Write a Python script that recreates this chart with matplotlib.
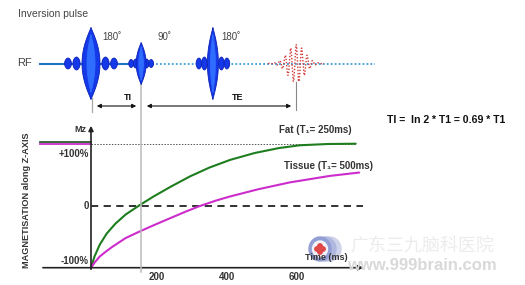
import numpy as np
import matplotlib.pyplot as plt
from matplotlib.patches import Circle, Ellipse

plt.rcParams['font.family'] = ['Liberation Sans', 'DejaVu Sans']

# curves (t in ms, Mz as fraction of M0)
fat_t = [0, 10, 25, 45, 70, 100, 140, 180, 230, 285, 340, 400, 470, 540, 600, 680, 760]
fat_mz = [-1.0, -0.82, -0.63, -0.45, -0.29, -0.14, 0.01, 0.15, 0.31, 0.475, 0.615,
          0.74, 0.85, 0.93, 0.975, 0.995, 1.0]
tissue_t = [0, 10, 25, 45, 62, 100, 140, 180, 230, 270, 310, 360, 400, 480, 570, 685, 770]
tissue_mz = [-1.0, -0.92, -0.82, -0.73, -0.66, -0.52, -0.415, -0.315, -0.195, -0.10,
             -0.01, 0.085, 0.15, 0.265, 0.375, 0.48, 0.535]
# equilibrium before the inversion pulse
pre_t = [-146, 0]
pre_fat = [1.03, 1.03]
pre_tissue = [1.0, 1.0]

x_ticks = [200, 400, 600]
y_labels = ['+100%', '0', '-100%']

# sequence timing (ms)
t_inv = 0
t_90 = 144
t_180 = 350
t_echo = 589

# pixel <-> data mapping
PX_MS = 0.3483
X0 = 91
Y0 = 205.7
PX_M = 62.0

fig = plt.figure(figsize=(5.25, 2.85), dpi=100)
ax = fig.add_axes([0, 0, 1, 1])
ax.set_xlim(-X0 / PX_MS, (525 - X0) / PX_MS)
ax.set_ylim((Y0 - 285) / PX_M, Y0 / PX_M)
ax.axis('off')

# overlay for the RF schematic and labels, x in ms, y in pixels
ov = fig.add_axes([0, 0, 1, 1])
ov.set_xlim(ax.get_xlim())
ov.set_ylim(285, 0)
ov.axis('off')
ov.patch.set_alpha(0)

def ms(px):
    return (px - X0) / PX_MS

dark = '#333333'

# ---- chart ----
ax.plot(fat_t, fat_mz, color='#1e7d1e', lw=1.5, solid_capstyle='round', solid_joinstyle='round', zorder=3)
ax.plot(tissue_t, tissue_mz, color='#cc2ccc', lw=1.5, solid_capstyle='round', solid_joinstyle='round', zorder=3)
ax.plot(pre_t, pre_fat, color='#2a5a2a', lw=1.3)
ax.plot(pre_t, pre_tissue, color='#cc2ccc', lw=1.3)
ax.plot([0, 760], [1, 1], color='#555555', lw=0.7, ls=(0, (1.5, 1.5)))
ax.plot([0, ms(363)], [0, 0], color='#222222', lw=1.3, ls=(0, (4, 3)))

# axes with arrows
ax.annotate('', xy=(ms(366), -1), xytext=(-146, -1),
            arrowprops=dict(arrowstyle='-|>', color='#222222', lw=1.2, mutation_scale=7))
ax.annotate('', xy=(0, (Y0 - 123) / PX_M), xytext=(0, (Y0 - 272) / PX_M),
            arrowprops=dict(arrowstyle='-|>', color='#222222', lw=1.2, mutation_scale=7))

for t in x_ticks:
    ax.text(t - 10, (Y0 - 277) / PX_M, str(t), ha='center', va='center',
            fontsize=7, fontweight='bold', color=dark)
for lab, py in zip(y_labels, [154, 206, 261]):
    ax.text(ms(89), (Y0 - py) / PX_M, lab, ha='right', va='center',
            fontsize=7, fontweight='bold', color=dark)
ax.text(ms(80), (Y0 - 130) / PX_M, 'Mz', ha='center', va='center',
        fontsize=6.5, fontweight='bold', color=dark)
ax.text(ms(27), (Y0 - 200) / PX_M, 'MAGNETISATION along Z-AXIS', rotation=90,
        ha='center', va='center', fontsize=6.6, fontweight='bold', color=dark)
ax.text(ms(315), (Y0 - 130) / PX_M, 'Fat (T\u2081= 250ms)', ha='center', va='center',
        fontsize=7, fontweight='bold', color=dark)
ax.text(ms(328), (Y0 - 166) / PX_M, 'Tissue (T\u2081= 500ms)', ha='center', va='center',
        fontsize=7, fontweight='bold', color=dark)
ax.text(ms(446), (Y0 - 120) / PX_M, 'TI =  ln 2 * T1 = 0.69 * T1', ha='center', va='center',
        fontsize=7.6, fontweight='bold', color='#111111')

# watermark
ov.text(ms(422), 246, '广东三九脑科医院', ha='center', va='center', fontsize=13,
        color='#ececec', family=['Noto Sans CJK SC', 'DejaVu Sans'], zorder=1)
ov.text(ms(422), 266, 'www.999brain.com', ha='center', va='center', fontsize=12,
        fontweight='bold', color='#d9d9d9', zorder=1)
for dx, c in [(10, '#d0d4ea'), (5, '#b0b8e0'), (0, '#929ed4')]:
    ov.add_patch(Ellipse((ms(320 + dx), 249), 22 / PX_MS, 24, color=c, zorder=4))
ov.add_patch(Ellipse((ms(320), 249), 15 / PX_MS, 16, color='#f2f2f8', zorder=4))
for ddx, ddy in [(0, -3), (0, 3), (-3, 0), (3, 0)]:
    ov.add_patch(Ellipse((ms(320 + ddx), 249 + ddy), 4.4 / PX_MS, 4.4, color='#e04848', zorder=5))
ov.text(ms(326), 258, 'Time (ms)', ha='center', va='center', fontsize=6.5,
        fontweight='bold', color=dark, zorder=6)

# ---- RF schematic ----
YL = 63.5

def lobe(tc, half_w_px, half_h, color='#1538e8', edge='#0b22b8', p=1.1):
    v = np.linspace(-half_h, half_h, 80)
    hw = half_w_px * (1 - (v / half_h) ** 2) ** p / PX_MS
    xs = np.concatenate([tc + hw, (tc - hw)[::-1]])
    ys = np.concatenate([YL + v, (YL + v)[::-1]])
    ov.fill(xs, ys, color=color, ec=edge, lw=0.6, zorder=3)

def pulse(tc, w, h, side):
    for off, sw, sh in side:
        lobe(tc + off / PX_MS, sw, sh, p=0.6)
        lobe(tc - off / PX_MS, sw, sh, p=0.6)
    lobe(tc, w, h)
    lobe(tc, w * 0.45, h * 0.8, color='#2f6dff', edge='#2f6dff')

ov.plot([ms(40), ms(150)], [YL, YL], color='#1f74c6', lw=1.5, zorder=2)
ov.plot([ms(152), ms(375)], [YL, YL], color='#3a9ad8', lw=1.3, ls=(0, (1, 1.2)), zorder=2)

pulse(t_inv, 9, 36, [(14.5, 3.6, 6.5), (23, 3.4, 5.5)])
pulse(t_90, 5, 21, [(5.5, 2.4, 4.5), (10, 2.4, 4)])
pulse(t_180, 5.5, 36, [(8.5, 2.8, 6.5), (14, 2.8, 5.5)])

# echo
xe = np.linspace(-28, 28, 400)
ye = YL - 19 * np.exp(-(xe / 12) ** 2) * np.cos(2 * np.pi * xe / 5.5)
ov.plot(t_echo + xe / PX_MS, ye, color='#d23a3a', lw=1.0, ls=(0, (1, 1.3)), zorder=4)

# pulse labels
for px, lab in [(112, '180\u02da'), (165, '90\u02da'), (231, '180\u02da')]:
    ov.text(ms(px), 37, lab, ha='center', va='center', fontsize=7, color='#444444')
ov.text(ms(18), 14, 'Inversion pulse', ha='left', va='center', fontsize=7.5, color='#444444')
ov.text(ms(17), 63, 'RF', ha='left', va='center', fontsize=8, color='#444444')

# timing markers
ov.plot([t_inv + 1 / PX_MS, t_inv + 1 / PX_MS], [98, 112], color='#aaaaaa', lw=0.9)
ov.plot([t_90, t_90], [82, 272], color='#bbbbbb', lw=1.1, zorder=1)
ov.plot([t_echo, t_echo], [82, 110], color='#888888', lw=0.8)
ov.annotate('', xy=(ms(94), 106), xytext=(ms(139), 106),
            arrowprops=dict(arrowstyle='<|-|>', color='#111111', lw=0.8, mutation_scale=6))
ov.annotate('', xy=(ms(144), 106), xytext=(ms(294), 106),
            arrowprops=dict(arrowstyle='<|-|>', color='#111111', lw=0.8, mutation_scale=6))
ov.text(ms(128), 98, 'TI', ha='center', va='center', fontsize=6.5, fontweight='bold', color='#111111')
ov.text(ms(238), 98, 'TE', ha='center', va='center', fontsize=6.5, fontweight='bold', color='#111111')

fig.savefig('out.png', dpi=100)
